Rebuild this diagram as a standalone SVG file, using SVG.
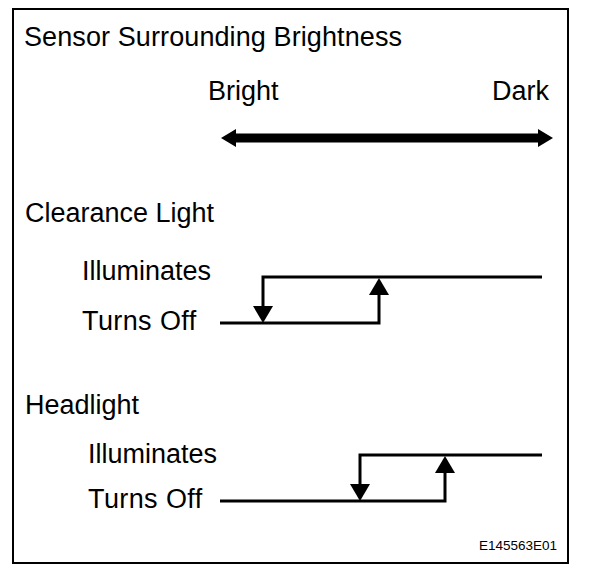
<svg xmlns="http://www.w3.org/2000/svg" width="608" height="578" viewBox="0 0 608 578">
<style>
text{font-family:"Liberation Sans",Arial,sans-serif;fill:#000}
.lbl{font-size:27px}
.code{font-size:13.5px}
.ln{fill:none;stroke:#000;stroke-width:3}
</style>
<rect x="0" y="0" width="608" height="578" fill="#fff"/>
<rect id="frame" x="13" y="9" width="555" height="554" fill="none" stroke="#000" stroke-width="2"/>
<g id="title"><text class="lbl" x="24" y="46" letter-spacing="0.1">Sensor Surrounding Brightness</text></g>
<g id="scale">
<text class="lbl" x="208" y="100">Bright</text>
<text class="lbl" x="549" y="100" text-anchor="end">Dark</text>
<path d="M221,138 L236,129 L236,147 Z M553,138 L538,129 L538,147 Z" fill="#000"/>
<line x1="232" y1="138" x2="542" y2="138" stroke="#000" stroke-width="9"/>
</g>
<g id="clearance">
<text class="lbl" x="25" y="222">Clearance Light</text>
<text class="lbl" x="82" y="280">Illuminates</text>
<text class="lbl" x="82" y="330" letter-spacing="0.4">Turns Off</text>
</g>
<g id="headlight">
<text class="lbl" x="25" y="414">Headlight</text>
<text class="lbl" x="88" y="463">Illuminates</text>
<text class="lbl" x="88" y="508" letter-spacing="0.4">Turns Off</text>
</g>
<g id="connectors">
<path class="ln" d="M542,277 H263 V306"/>
<path d="M253,306 L273,306 L263,323 Z" fill="#000"/>
<path class="ln" d="M220,323 H379 V294"/>
<path d="M369,295 L389,295 L379,278 Z" fill="#000"/>
<path class="ln" d="M542,455 H360 V484"/>
<path d="M350,484 L370,484 L360,501 Z" fill="#000"/>
<path class="ln" d="M220,501 H445 V472"/>
<path d="M435,473 L455,473 L445,456 Z" fill="#000"/>
</g>
<g id="code"><text class="code" x="557" y="550" text-anchor="end">E145563E01</text></g>
</svg>
